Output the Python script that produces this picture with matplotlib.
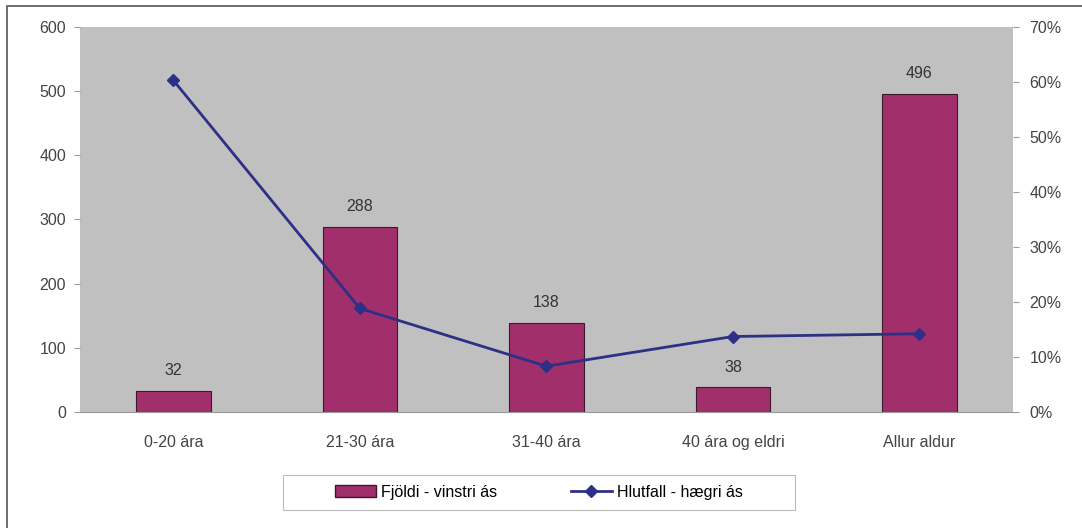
import matplotlib.pyplot as plt
from matplotlib.patches import Rectangle
from matplotlib.lines import Line2D

plt.rcParams['font.family'] = ['Liberation Sans', 'DejaVu Sans']

categories = ["0-20 ára", "21-30 ára", "31-40 ára", "40 ára og eldri", "Allur aldur"]
fjoldi = [32, 288, 138, 38, 496]
hlutfall = [60.3, 18.8, 8.3, 13.7, 14.2]

bar_color = "#A12F6B"
line_color = "#2E2F86"
fs = 11.5

fig = plt.figure(figsize=(10.82, 5.28), dpi=100)
fig.patches.append(Rectangle((0.0065, -0.01), 1.1, 0.999, transform=fig.transFigure,
                             fill=False, edgecolor="#555555", linewidth=1.2))

ax = fig.add_axes([0.074, 0.22, 0.862, 0.729])
ax.set_facecolor("#C0C0C0")
x = list(range(len(categories)))
ax.bar(x, fjoldi, width=0.4, color=bar_color, edgecolor="#3a1a2a", linewidth=0.8, zorder=2)
for xi, v in zip(x, fjoldi):
    ax.text(xi, v + 20, str(v), ha="center", va="bottom", fontsize=fs, color="#333333")

ax.set_xlim(-0.5, len(categories) - 0.5)
ax.set_ylim(0, 600)
ax.set_yticks(range(0, 601, 100))
ax.set_xticks(x)
ax.set_xticklabels(categories)
ax.tick_params(axis="y", length=4, colors="#999999", labelcolor="#444444", labelsize=fs, pad=6)
ax.tick_params(axis="x", length=0, labelcolor="#444444", labelsize=fs, pad=17)
for s in ax.spines.values():
    s.set_visible(False)
ax.spines["bottom"].set_visible(True)
ax.spines["bottom"].set_color("#999999")

ax2 = ax.twinx()
ax2.plot(x, hlutfall, color=line_color, linewidth=2, marker="D", markersize=6, zorder=3)
ax2.set_ylim(0, 70)
ax2.set_yticks(range(0, 71, 10))
ax2.set_yticklabels([f"{v}%" for v in range(0, 71, 10)])
ax2.tick_params(axis="y", length=4, colors="#999999", labelcolor="#444444", labelsize=fs, pad=8)
for s in ax2.spines.values():
    s.set_visible(False)

# legend box drawn separately so it can be wider than the entries
fig.patches.append(Rectangle((283 / 1082, 18 / 528), 512 / 1082, 35 / 528, transform=fig.transFigure,
                             fill=False, edgecolor="#bbbbbb", linewidth=0.8))
handles = [Rectangle((0, 0), 1, 1, facecolor=bar_color, edgecolor="#3a1a2a"),
           Line2D([], [], color=line_color, linewidth=2, marker="D", markersize=6)]
fig.legend(handles, ["Fjöldi - vinstri ás", "Hlutfall - hægri ás"], ncol=2,
           loc="center", bbox_to_anchor=(0.498, 0.068), frameon=False,
           fontsize=fs, columnspacing=4.6, handlelength=2.6, handletextpad=0.3)

fig.savefig("out.png", dpi=100)
